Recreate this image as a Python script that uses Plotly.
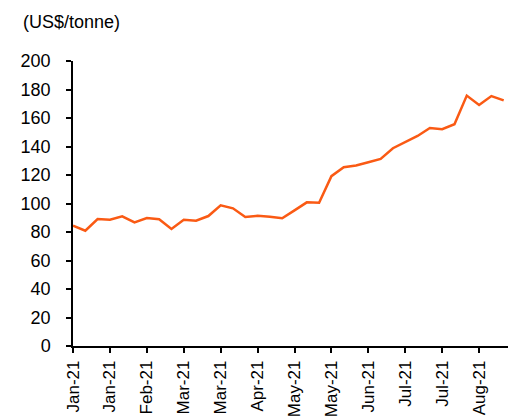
import plotly.graph_objects as go
import pandas as pd

dates = pd.date_range("2021-01-01", periods=36, freq="7D")
values = [84.4, 80.9, 89.1, 88.6, 91.0, 86.8, 89.8, 88.9, 82.1, 88.6,
          87.9, 91.2, 98.7, 96.6, 90.5, 91.4, 90.7, 89.6, 95.2, 100.8,
          100.5, 119.2, 125.5, 126.7, 129.0, 131.3, 138.8, 143.0, 147.4, 153.0,
          152.1, 155.6, 175.7, 169.1, 175.4, 172.4]
y_ticks = [0, 20, 40, 60, 80, 100, 120, 140, 160, 180, 200]
unit_label = "(US$/tonne)"

fig = go.Figure(go.Scatter(x=dates, y=values, mode="lines",
                           line=dict(color="#FA5A14", width=2.5)))

x_end = dates[0] + pd.Timedelta(weeks=35.35)
fig.update_layout(
    width=508, height=411,
    margin=dict(l=65, r=8, t=53, b=73),
    plot_bgcolor="white", paper_bgcolor="white",
    showlegend=False,
    font=dict(family="Liberation Sans, Arial, sans-serif", size=18, color="black"),
    xaxis=dict(range=[dates[0], x_end], tickvals=list(dates[::3]), tickformat="%b-%y",
               tickangle=-90, showgrid=False, zeroline=False, automargin=False,
               showline=True, linecolor="black", linewidth=1.5,
               ticks="outside", ticklen=5, tickcolor="black", tickwidth=1.5,
               ticklabelstandoff=1, tickfont=dict(size=17)),
    yaxis=dict(range=[0, 200], tickvals=y_ticks, showgrid=False, zeroline=False,
               automargin=False,
               showline=True, linecolor="black", linewidth=1.5,
               ticks="outside", ticklen=5, tickcolor="black", tickwidth=1.5,
               ticklabelstandoff=12, tickfont=dict(size=18)),
    annotations=[dict(text=unit_label, xref="paper", yref="paper", x=-0.12, y=1.137,
                      xanchor="left", yanchor="middle", showarrow=False,
                      font=dict(size=18))],
)
fig.write_html("out.html")
